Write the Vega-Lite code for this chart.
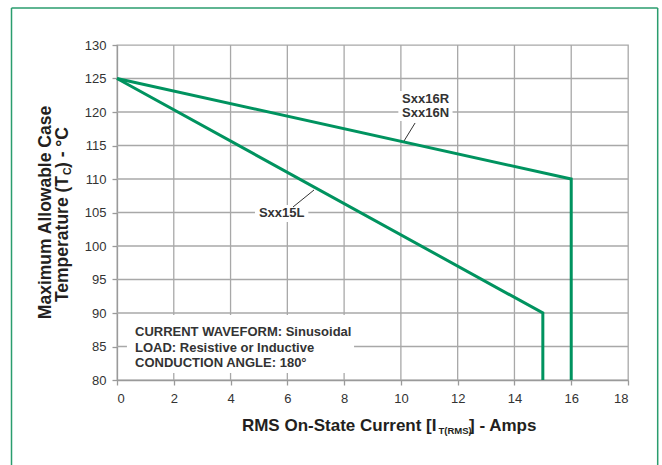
{
  "$schema": "https://vega.github.io/schema/vega-lite/v6.json",
  "autosize": {"type": "none"},
  "width": 511,
  "height": 335,
  "padding": {"left": 117, "top": 45, "right": 34, "bottom": 85},
  "background": "white",
  "resolve": {"axis": {"x": "independent", "y": "independent"}},
  "config": {
    "font": "Liberation Sans",
    "view": {"stroke": "#a8a8a8", "strokeWidth": 1.3},
    "axis": {
      "grid": false,
      "domainColor": "#9a9a9a",
      "domainWidth": 1.3,
      "tickColor": "#9a9a9a",
      "tickWidth": 1.3,
      "tickSize": 5,
      "labelFont": "Liberation Sans",
      "labelFontSize": 13,
      "labelColor": "#333333",
      "labelOverlap": false,
      "title": null
    }
  },
  "layer": [
    {
      "data": {"values": [
        {"gx": 2}, {"gx": 4}, {"gx": 6}, {"gx": 8}, {"gx": 10}, {"gx": 12}, {"gx": 14}, {"gx": 16}
      ]},
      "mark": {"type": "rule", "color": "#a8a8a8", "strokeWidth": 1.3},
      "encoding": {
        "x": {"field": "gx", "type": "quantitative", "axis": null},
        "y": {"datum": 80, "type": "quantitative", "axis": null},
        "y2": {"datum": 130}
      }
    },
    {
      "data": {"values": [
        {"gy": 85}, {"gy": 90}, {"gy": 95}, {"gy": 100}, {"gy": 105}, {"gy": 110}, {"gy": 115}, {"gy": 120}, {"gy": 125}
      ]},
      "mark": {"type": "rule", "color": "#a8a8a8", "strokeWidth": 1.3},
      "encoding": {
        "y": {"field": "gy", "type": "quantitative", "axis": null},
        "x": {"datum": 0, "type": "quantitative", "axis": null},
        "x2": {"datum": 18}
      }
    },
    {
      "data": {"values": [
        {"series": "Sxx16R/N", "ord": 1, "current": 0, "temp": 125},
        {"series": "Sxx16R/N", "ord": 2, "current": 16, "temp": 110},
        {"series": "Sxx16R/N", "ord": 3, "current": 16, "temp": 80},
        {"series": "Sxx15L", "ord": 1, "current": 0, "temp": 125},
        {"series": "Sxx15L", "ord": 2, "current": 15, "temp": 90},
        {"series": "Sxx15L", "ord": 3, "current": 15, "temp": 80}
      ]},
      "mark": {"type": "line", "color": "#00935f", "strokeWidth": 3, "strokeJoin": "miter"},
      "encoding": {
        "x": {"field": "current", "type": "quantitative", "scale": {"domain": [0, 18], "nice": false, "zero": false}, "axis": {"values": [0, 2, 4, 6, 8, 10, 12, 14, 16, 18], "labelPadding": 7, "title": null}},
        "y": {"field": "temp", "type": "quantitative", "scale": {"domain": [80, 130], "nice": false, "zero": false}, "axis": {"values": [80, 85, 90, 95, 100, 105, 110, 115, 120, 125, 130], "labelPadding": 6, "title": null}},
        "detail": {"field": "series"},
        "order": {"field": "ord"}
      }
    },
    {
      "data": {"values": [
        {"edge": "top", "xa": -3.716, "xb": 19.046, "ya": 135.52, "yb": 135.52},
        {"edge": "left", "xa": -3.716, "xb": -3.716, "ya": 135.52, "yb": 50},
        {"edge": "right", "xa": 19.046, "xb": 19.046, "ya": 135.52, "yb": 50}
      ]},
      "mark": {"type": "rule", "color": "#2a9d6e", "strokeWidth": 1.5},
      "encoding": {
        "x": {"field": "xa", "type": "quantitative", "axis": null},
        "x2": {"field": "xb"},
        "y": {"field": "ya", "type": "quantitative", "axis": null},
        "y2": {"field": "yb"}
      }
    },
    {
      "data": {"values": [
        {"box": "a", "x1": 0.35, "x2": 8.35, "y1": 81.04, "y2": 89.7},
        {"box": "b", "x1": 9.91, "x2": 11.82, "y1": 118.66, "y2": 123.13},
        {"box": "c", "x1": 4.86, "x2": 6.74, "y1": 103.58, "y2": 106.12}
      ]},
      "mark": {"type": "rect", "fill": "white", "opacity": 1},
      "encoding": {
        "x": {"field": "x1", "type": "quantitative", "axis": null},
        "x2": {"field": "x2"},
        "y": {"field": "y1", "type": "quantitative", "axis": null},
        "y2": {"field": "y2"}
      }
    },
    {
      "data": {"values": [
        {"lbl": "Sxx16", "xa": 10.5, "ya": 118.36, "xb": 10.11, "yb": 115.67},
        {"lbl": "Sxx15L", "xa": 6.2, "ya": 105.82, "xb": 6.94, "yb": 108.36}
      ]},
      "mark": {"type": "rule", "color": "#333333", "strokeWidth": 1},
      "encoding": {
        "x": {"field": "xa", "type": "quantitative", "axis": null},
        "y": {"field": "ya", "type": "quantitative", "axis": null},
        "x2": {"field": "xb"},
        "y2": {"field": "yb"}
      }
    },
    {
      "data": {"values": [
        {"t": "Sxx16R", "x": 10.87, "y": 121.94},
        {"t": "Sxx16N", "x": 10.87, "y": 119.85},
        {"t": "Sxx15L", "x": 5.8, "y": 104.88}
      ]},
      "mark": {"type": "text", "fontWeight": "bold", "fontSize": 13, "color": "#333333", "baseline": "middle", "align": "center"},
      "encoding": {
        "x": {"field": "x", "type": "quantitative", "axis": null},
        "y": {"field": "y", "type": "quantitative", "axis": null},
        "text": {"field": "t"}
      }
    },
    {
      "data": {"values": [
        {"t": "CURRENT WAVEFORM: Sinusoidal", "y": 87.21},
        {"t": "LOAD: Resistive or Inductive", "y": 84.82},
        {"t": "CONDUCTION ANGLE: 180°", "y": 82.49}
      ]},
      "mark": {"type": "text", "fontWeight": "bold", "fontSize": 13, "color": "#333333", "baseline": "middle", "align": "left"},
      "encoding": {
        "x": {"datum": 0.634, "type": "quantitative", "axis": null},
        "y": {"field": "y", "type": "quantitative", "axis": null},
        "text": {"field": "t"}
      }
    },
    {
      "data": {"values": [{"t": "RMS On-State Current [I"}]},
      "mark": {"type": "text", "fontWeight": "bold", "fontSize": 17, "color": "#231f20", "baseline": "alphabetic", "align": "right"},
      "encoding": {"x": {"datum": 11.254, "type": "quantitative", "axis": null}, "y": {"datum": 72.46, "type": "quantitative", "axis": null}, "text": {"field": "t"}}
    },
    {
      "data": {"values": [{"t": "T(RMS)"}]},
      "mark": {"type": "text", "fontWeight": "bold", "fontSize": 9.5, "color": "#231f20", "baseline": "alphabetic", "align": "left"},
      "encoding": {"x": {"datum": 11.325, "type": "quantitative", "axis": null}, "y": {"datum": 72.01, "type": "quantitative", "axis": null}, "text": {"field": "t"}}
    },
    {
      "data": {"values": [{"t": "] - Amps"}]},
      "mark": {"type": "text", "fontWeight": "bold", "fontSize": 17, "color": "#231f20", "baseline": "alphabetic", "align": "left"},
      "encoding": {"x": {"datum": 12.399, "type": "quantitative", "axis": null}, "y": {"datum": 72.46, "type": "quantitative", "axis": null}, "text": {"field": "t"}}
    },
    {
      "data": {"values": [{"t": "Maximum Allowable Case"}]},
      "mark": {"type": "text", "fontWeight": "bold", "fontSize": 17.5, "color": "#231f20", "baseline": "alphabetic", "align": "center", "angle": 270},
      "encoding": {"x": {"datum": -2.325, "type": "quantitative", "axis": null}, "y": {"datum": 105.0, "type": "quantitative", "axis": null}, "text": {"field": "t"}}
    },
    {
      "data": {"values": [{"t": "Temperature (T"}]},
      "mark": {"type": "text", "fontWeight": "bold", "fontSize": 17.5, "color": "#231f20", "baseline": "alphabetic", "align": "right", "angle": 270},
      "encoding": {"x": {"datum": -1.726, "type": "quantitative", "axis": null}, "y": {"datum": 110.45, "type": "quantitative", "axis": null}, "text": {"field": "t"}}
    },
    {
      "data": {"values": [{"t": "C"}]},
      "mark": {"type": "text", "fontWeight": "bold", "fontSize": 10.5, "color": "#231f20", "baseline": "alphabetic", "align": "left", "angle": 270},
      "encoding": {"x": {"datum": -1.61, "type": "quantitative", "axis": null}, "y": {"datum": 110.6, "type": "quantitative", "axis": null}, "text": {"field": "t"}}
    },
    {
      "data": {"values": [{"t": " ) - °C"}]},
      "mark": {"type": "text", "fontWeight": "bold", "fontSize": 17.5, "color": "#231f20", "baseline": "alphabetic", "align": "left", "angle": 270},
      "encoding": {"x": {"datum": -1.726, "type": "quantitative", "axis": null}, "y": {"datum": 111.64, "type": "quantitative", "axis": null}, "text": {"field": "t"}}
    }
  ]
}
